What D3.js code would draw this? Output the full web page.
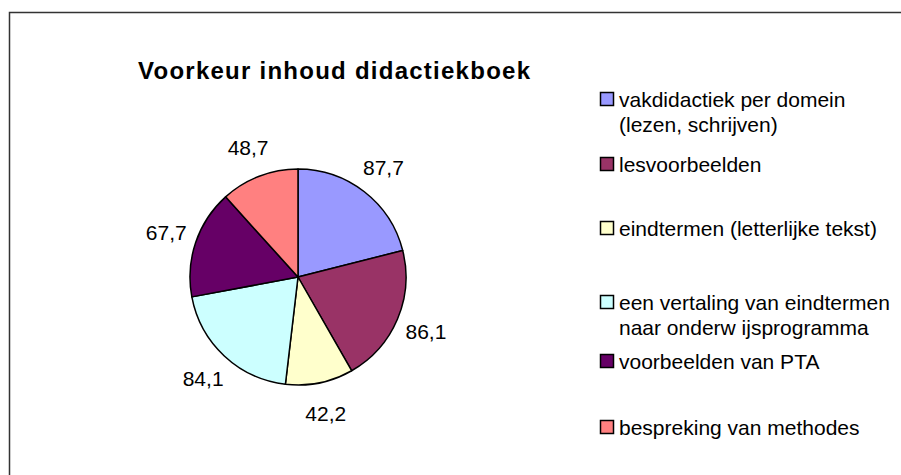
<!DOCTYPE html>
<html>
<head>
<meta charset="utf-8">
<script src="https://cdn.jsdelivr.net/npm/d3@7"></script>
<style>
  html, body { margin: 0; padding: 0; background: #fff; }
  svg { display: block; }
  text { font-family: "Liberation Sans", Arial, sans-serif; fill: #000; }
</style>
</head>
<body>
<svg id="chart" width="901" height="475"></svg>
<script>
const title = "Voorkeur inhoud didactiekboek";
const categories = [
  ["vakdidactiek per domein", "(lezen, schrijven)"],
  ["lesvoorbeelden"],
  ["eindtermen (letterlijke tekst)"],
  ["een vertaling van eindtermen", "naar onderw ijsprogramma"],
  ["voorbeelden van PTA"],
  ["bespreking van methodes"]
];
const values = [87.7, 86.1, 42.2, 84.1, 67.7, 48.7];
const valueLabels = ["87,7", "86,1", "42,2", "84,1", "67,7", "48,7"];
const colors = ["#9999FF", "#993366", "#FFFFCC", "#CCFFFF", "#660066", "#FF8080"];
const legendBaselines = [107, 172, 236, 310, 369, 435];

const svg = d3.select("#chart");

// chart frame
svg.append("rect")
  .attr("x", 9.5).attr("y", 12.5)
  .attr("width", 1000).attr("height", 600)
  .attr("fill", "none").attr("stroke", "#333").attr("stroke-width", 1.5);

// title
svg.append("text")
  .attr("x", 138).attr("y", 79)
  .attr("font-size", 24).attr("font-weight", "bold")
  .attr("textLength", 392).attr("lengthAdjust", "spacing")
  .text(title);

// pie
const cx = 298, cy = 277, r = 108;
const pie = d3.pie().sort(null).value(d => d)
  .startAngle(0).endAngle(2 * Math.PI);
const arcs = pie(values);
const arc = d3.arc().innerRadius(0).outerRadius(r);
const labelArc = d3.arc().innerRadius(139).outerRadius(139);

const g = svg.append("g").attr("transform", `translate(${cx},${cy})`);
g.selectAll("path.slice").data(arcs).join("path")
  .attr("class", "slice")
  .attr("d", arc)
  .attr("fill", (d, i) => colors[i])
  .attr("stroke", "#000").attr("stroke-width", 1.5)
  .attr("stroke-linejoin", "round");

g.selectAll("text.lbl").data(arcs).join("text")
  .attr("class", "lbl")
  .attr("transform", d => `translate(${labelArc.centroid(d)})`)
  .attr("text-anchor", "middle")
  .attr("dy", "0.36em")
  .attr("font-size", 21)
  .text((d, i) => valueLabels[i]);

// legend
const leg = svg.append("g");
categories.forEach((lines, i) => {
  const base = legendBaselines[i];
  leg.append("rect")
    .attr("x", 600.5).attr("y", base - 14.5)
    .attr("width", 13).attr("height", 13)
    .attr("fill", colors[i]).attr("stroke", "#000").attr("stroke-width", 1.5);
  lines.forEach((t, j) => {
    leg.append("text")
      .attr("x", 619).attr("y", base + j * 25)
      .attr("font-size", 21)
      .text(t);
  });
});
</script>
</body>
</html>
